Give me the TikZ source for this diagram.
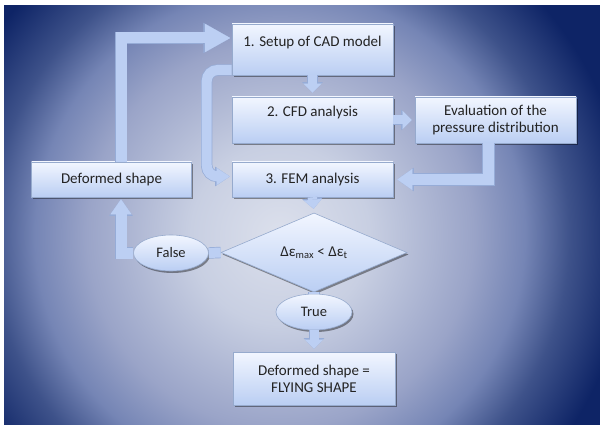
\documentclass[tikz,border=0pt]{standalone}
\usepackage{fontspec}
\setmainfont{Carlito}
\usetikzlibrary{arrows.meta,shapes.geometric,shadows}

\definecolor{bgA}{RGB}{220,224,236}
\definecolor{bgB}{RGB}{200,207,226}
\definecolor{bgC}{RGB}{154,164,200}
\definecolor{bgD}{RGB}{117,133,181}
\definecolor{bgE}{RGB}{62,82,138}
\definecolor{bgF}{RGB}{14,36,102}
\definecolor{boxtop}{RGB}{242,246,255}
\definecolor{boxbot}{RGB}{186,206,243}
\definecolor{boxedge}{RGB}{150,170,205}
\definecolor{arrowfill}{RGB}{188,207,243}
\definecolor{arrowedge}{RGB}{150,172,215}
\definecolor{txt}{RGB}{35,35,35}

\pgfdeclareradialshading{bgrad}{\pgfpoint{0bp}{0bp}}{color(0bp)=(bgA); color(12bp)=(bgB); color(26bp)=(bgC); color(33bp)=(bgD); color(39bp)=(bgE); color(47bp)=(bgF); color(70bp)=(bgF)}

\begin{document}
\begin{tikzpicture}[x=1pt,y=-1pt,
  shadowed/.style={drop shadow={shadow xshift=1.5pt,shadow yshift=-2pt,opacity=0.4,fill=black}},
  box/.style={rectangle, draw=boxedge, line width=0.6pt, top color=boxtop, bottom color=boxbot,
    text=txt, align=center, inner sep=0pt, font=\fontsize{15}{17}\selectfont, shadowed},
  upper/.style={text height=11pt, text depth=17pt},
  ell/.style={ellipse, draw=boxedge, line width=0.6pt, top color=boxtop, bottom color=boxbot,
    text=txt, inner sep=0pt, minimum height=36pt, font=\fontsize{14.5}{17}\selectfont, shadowed},
  dia/.style={diamond, draw=boxedge, line width=0.6pt, top color=boxtop, bottom color=boxbot,
    text=txt, inner sep=0pt, font=\fontsize{15}{17}\selectfont, shadowed},
  sarr/.style={line width=9pt, draw=arrowfill,
    -{Triangle[width=18pt,length=9pt,line width=0.01pt]},
    preaction={draw=arrowedge, line width=10.4pt, -{Triangle[width=20.4pt,length=10.5pt,line width=0.01pt]}}},
  conn/.style={line width=10pt, draw=arrowfill,
    preaction={draw=arrowedge, line width=11.4pt}},
  barr/.style={line width=11pt, draw=arrowfill,
    -{Triangle[width=28pt,length=25pt,line width=0.01pt]},
    preaction={draw=arrowedge, line width=12.4pt, -{Triangle[width=30.4pt,length=26.8pt,line width=0.01pt]}}},
  marr/.style={line width=11pt, draw=arrowfill,
    -{Triangle[width=21pt,length=15pt,line width=0.01pt]},
    preaction={draw=arrowedge, line width=12.4pt, -{Triangle[width=23.4pt,length=16.6pt,line width=0.01pt]}}},
  carr/.style={line width=10pt, draw=arrowfill,
    -{Triangle[width=17pt,length=13pt,line width=0.01pt]},
    preaction={draw=arrowedge, line width=11.4pt, -{Triangle[width=19.4pt,length=14.6pt,line width=0.01pt]}}}
]
\useasboundingbox (0,0) rectangle (600,425);
\fill[white] (0,0) rectangle (600,425);
\begin{scope}
  \clip (4,6) rectangle (600,425);
  \pgftransformshift{\pgfpointxy{280}{235}}
  \pgftransformscale{7.4}
  \pgflowlevelsynccm
  \pgfuseshading{bgrad}
\end{scope}

% nodes
\node[box, upper, minimum width=161pt, minimum height=51pt] (b1) at (312.5,49.5) {1. Setup of CAD model};
\node[box, upper, minimum width=161pt, minimum height=46pt] (b2) at (312.5,120) {2. CFD analysis};
\node[box, minimum width=161pt, minimum height=46pt] (ev) at (495.5,120) {Evaluation of the\\pressure distribution};
\node[box, minimum width=161pt, minimum height=35pt] (b3) at (312.5,179.5) {3. FEM analysis};
\node[box, minimum width=160pt, minimum height=35pt] (def) at (111.5,179.5) {Deformed shape};
\node[dia, minimum width=186pt, minimum height=64pt] (d) at (314,252.5) {Δε\textsubscript{max} < Δε\textsubscript{t}};
\node[ell, minimum width=75pt] (f) at (171,253) {False};
\node[ell, minimum width=76pt] (t) at (314,312) {True};
\node[box, minimum width=162pt, minimum height=53pt] (fin) at (314,378.5) {Deformed shape =\\FLYING SHAPE};

% connectors
\draw[sarr, shorten >=4pt] (b1.south) -- (b2.north);
\draw[sarr, shorten >=3pt] (b2.east) -- (ev.west);
\draw[sarr, shorten >=4pt] (b3.south) -- (d.north);
\draw[sarr, shorten >=3pt] (t.south) -- (fin.north);
\draw[conn] (f.east) -- (d.west);
\draw[conn] (d.south) -- (t.north);
\draw[barr, shorten >=1.5pt] ([xshift=9.5pt]def.north) |- ([yshift=11.5pt]b1.west);
\draw[marr, shorten >=2pt] (f.west) -| ([xshift=9.5pt]def.south);
\draw[carr, rounded corners=11pt, shorten >=2pt] ([yshift=-20.5pt]b1.west) -- ++(-25,0) |- ([yshift=3pt]b3.west);
\draw[marr, shorten >=4pt] ([xshift=-7pt]ev.south) |- (b3.east);
\end{tikzpicture}
\end{document}
